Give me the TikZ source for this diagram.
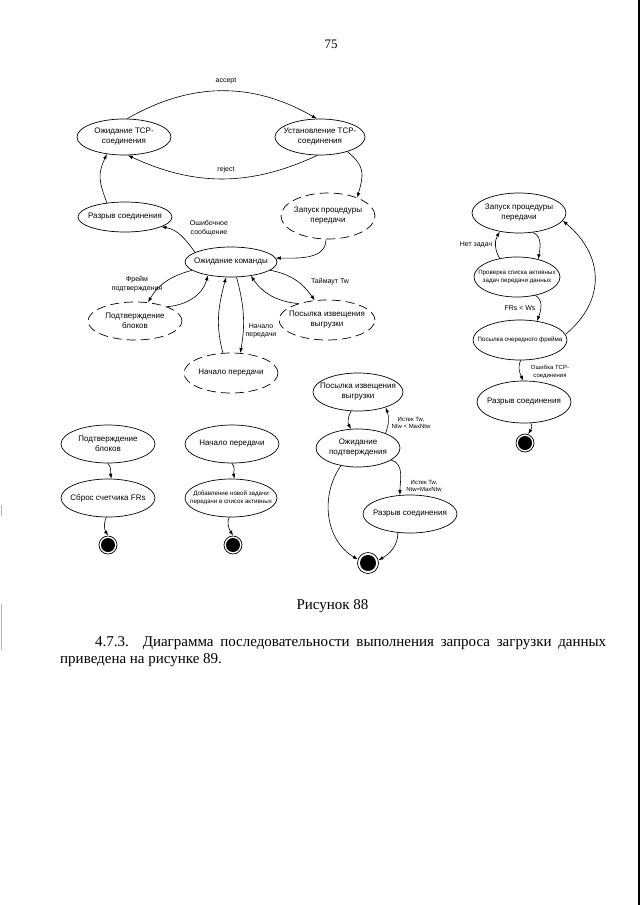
\documentclass[tikz,border=0pt]{standalone}
\usepackage{fontspec}
\setmainfont{Liberation Serif}
\newfontfamily\arialf{Liberation Sans}
\usetikzlibrary{shapes.geometric,arrows.meta}
\begin{document}
\begin{tikzpicture}[x=1pt,y=-1pt,
  st/.style={ellipse,draw,line width=0.7pt,inner sep=0pt},
  dst/.style={st,dash pattern=on 9pt off 5pt},
  stt/.style={font=\arialf\fontsize{8}{10}\selectfont,align=center,inner sep=0pt},
  sstt/.style={font=\arialf\fontsize{6.2}{8}\selectfont,align=center,inner sep=0pt},
  lab/.style={font=\arialf\fontsize{7}{8.5}\selectfont,align=center,inner sep=0pt},
  slab/.style={font=\arialf\fontsize{6}{7.5}\selectfont,align=center,inner sep=0pt},
  arr/.style={line width=0.6pt,-{Latex[length=5pt,width=3.6pt]}},
  fin/.style={circle,draw,line width=0.7pt,fill=white,minimum size=18pt,inner sep=0pt,
    path picture={\fill[black] (path picture bounding box.center) circle (7pt);}},
  bigfin/.style={circle,draw,line width=0.7pt,fill=white,minimum size=21pt,inner sep=0pt,
    path picture={\fill[black] (path picture bounding box.center) circle (8pt);}}
]
\useasboundingbox (0,0) rectangle (640,905);
\fill[white] (0,0) rectangle (640,905);

% page number
\node[font=\fontsize{13}{15}\selectfont,anchor=base,inner sep=0pt] (pnum) at (331,48.5) {75};

% ---------- top diagram ----------
\node[st,minimum width=94pt,minimum height=36pt,label={[stt]center:Ожидание TCP-\\соединения}] (wtcp) at (124,137) {};
\node[st,minimum width=90pt,minimum height=36pt,label={[stt]center:Установление TCP-\\соединения}] (utcp) at (320,137) {};
\node[st,minimum width=94pt,minimum height=30pt,label={[stt]center:Разрыв соединения}] (razr1) at (125,217) {};
\node[dst,minimum width=94pt,minimum height=46pt,label={[stt]center:Запуск процедуры\\передачи}] (zap1) at (328,216) {};
\node[st,minimum width=92pt,minimum height=30pt,label={[stt]center:Ожидание команды}] (ozh) at (231,262) {};
\node[dst,minimum width=94pt,minimum height=38pt,label={[stt]center:Подтверждение\\блоков}] (podtv) at (135,321) {};
\node[dst,minimum width=96pt,minimum height=40pt,label={[stt]center:Посылка извещения\\выгрузки}] (posyl) at (327,320) {};
\node[dst,minimum width=94pt,minimum height=40pt,label={[stt]center:Начало передачи}] (nach) at (231,373) {};

\node[lab] (lacc) at (226,81) {accept};
\node[lab] (lrej) at (226,170) {reject};
\node[lab] (lerr) at (209,228) {Ошибочное\\сообщение};
\node[lab] (lfr) at (137,284) {Фрейм\\подтверждения};
\node[lab] (ltw) at (330,282) {Таймаут Tw};
\node[lab] (lnp) at (261,331) {Начало\\передачи};

\draw[arr] (wtcp.80) to[out=30,in=150] (utcp.100);
\draw[arr] (utcp.262) to[out=205,in=-25] (wtcp.282);
\draw[arr] (razr1.142) to[out=110,in=245,looseness=1.2] (wtcp.225);
\draw[arr] (utcp.-28) to[out=-40,in=75,looseness=1.3] (zap1.32);
\draw[arr] (ozh.165) to[out=125,in=-10] (razr1.-15);
\draw[arr] (zap1.-95) to[out=-90,in=0] (ozh.5);
\draw[arr] (ozh.192) to[out=195,in=60] (podtv.55);
\draw[arr] (podtv.24) to[out=5,in=255] (ozh.210);
\draw[arr] (ozh.-12) to[out=-10,in=125] (posyl.122);
\draw[arr] (posyl.150) to[out=175,in=-55] (ozh.-35);
\draw[arr] (ozh.-70) to[out=-75,in=80] (nach.65);
\draw[arr] (nach.112) to[out=105,in=255] (ozh.-108);

% ---------- right diagram ----------
\node[st,minimum width=94pt,minimum height=40pt,label={[stt]center:Запуск процедуры\\передачи}] (zap2) at (519,213) {};
\node[st,minimum width=86pt,minimum height=40pt,label={[sstt]center:Проверка списка активных\\задач передачи данных}] (prov) at (517,277) {};
\node[st,minimum width=94pt,minimum height=40pt,label={[sstt]center:Посылка очередного фрейма}] (posoch) at (520,340) {};
\node[st,minimum width=94pt,minimum height=42pt,label={[stt]center:Разрыв соединения}] (razr2) at (524,402) {};
\node[fin] (fin2) at (525,443) {};

\node[lab] (lnz) at (476,245) {Нет задач};
\node[lab] (lfrs) at (520,308) {FRs < Ws};
\node[slab] (ltcp) at (550,372) {Ошибка TCP-\\соединения};

\draw[arr] (zap2.-55) to[out=-20,in=80] (prov.40);
\draw[arr] (prov.133) to[out=120,in=240] (zap2.224);
\draw[arr] (prov.-45) to[out=-30,in=70] (posoch.48);
\draw[arr] (posoch.7) to[out=40,in=-40,looseness=1.2] (zap2.-10);
\draw[arr] (posoch.-88) to[out=-115,in=115] (razr2.92);
\draw[arr] (razr2.-72) to[out=-60,in=60] (fin2.70);

% ---------- bottom left ----------
\node[st,minimum width=94pt,minimum height=38pt,label={[stt]center:Подтверждение\\блоков}] (pb2) at (108,444) {};
\node[st,minimum width=94pt,minimum height=38pt,label={[stt]center:Сброс счетчика FRs}] (sbros) at (108,498) {};
\node[fin] (fin3) at (108,545) {};
\node[st,minimum width=94pt,minimum height=38pt,label={[stt]center:Начало передачи}] (nach2) at (232,444) {};
\node[st,minimum width=92pt,minimum height=38pt,label={[sstt]center:Добавление новой задачи\\передачи в список активных}] (dob) at (231,498) {};
\node[fin] (fin4) at (233,545) {};

\draw[arr] (pb2.-90) to[out=-50,in=100] (sbros.80);
\draw[arr] (sbros.-95) to[out=-115,in=120] (fin3.north);
\draw[arr] (nach2.-90) to[out=-50,in=100] (dob.80);
\draw[arr] (dob.-95) to[out=-115,in=120] (fin4.north);

% ---------- bottom middle ----------
\node[st,minimum width=90pt,minimum height=38pt,label={[stt]center:Посылка извещения\\выгрузки}] (posyl2) at (358,392) {};
\node[st,minimum width=84pt,minimum height=38pt,label={[stt]center:Ожидание\\подтверждения}] (ozhp) at (358,448) {};
\node[st,minimum width=94pt,minimum height=38pt,label={[stt]center:Разрыв соединения}] (razr3) at (410,514) {};
\node[bigfin] (fin5) at (368,563) {};

\node[slab] (llt) at (411,423) {Истек Tw,\\Ntw < MaxNtw};
\node[slab] (leq) at (424,486) {Истек Tw,\\Ntw=MaxNtw};

\draw[arr] (posyl2.-110) to[out=-120,in=120] (ozhp.110);
\draw[arr] (ozhp.28) to[out=70,in=-70] (posyl2.-29);
\draw[arr] (ozhp.-20) to[out=-15,in=90] (razr3.118);
\draw[arr] (ozhp.226) to[out=235,in=150] (fin5.160);
\draw[arr] (razr3.237) to[out=-90,in=30] (fin5.15);

% ---------- caption and text ----------
\node[anchor=base,inner sep=0pt,font=\fontsize{15}{17}\selectfont] (cap) at (332.5,609.5) {Рисунок 88};
\node[anchor=base west,inner sep=0pt,font=\fontsize{15}{17}\selectfont] (par1) at (95,646)
  {\makebox[511pt][s]{4.7.3. Диаграмма последовательности выполнения запроса загрузки данных}};
\node[anchor=base west,inner sep=0pt,font=\fontsize{15}{17}\selectfont] (par2) at (60,663) {приведена на рисунке 89.};

% scan edges
\draw[line width=1.3pt] (639,0) -- (639,905);
\draw[gray!60,line width=0.8pt] (1,505) -- (1,516);
\draw[gray!60,line width=0.8pt] (1,604) -- (1,650);
\end{tikzpicture}
\end{document}
